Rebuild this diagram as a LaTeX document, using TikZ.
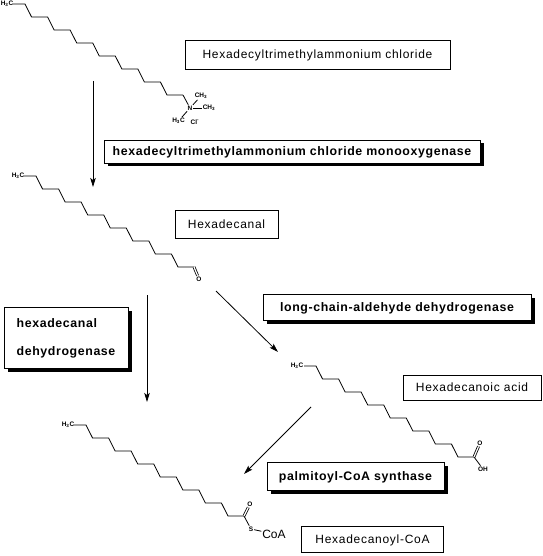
\documentclass[tikz,border=0pt]{standalone}
\usepackage{fontspec}
\setmainfont{Liberation Sans}
\newfontfamily\namefont[LetterSpace=6]{Liberation Sans}
\newfontfamily\enzfont[LetterSpace=5]{Liberation Sans}[BoldFont={Liberation Sans Bold}]
\usetikzlibrary{arrows.meta,shadows}
\tikzset{
  namebox/.style={draw,thick,fill=white,inner sep=0pt,text depth=0pt,font=\namefont\fontsize{12}{14}\selectfont},
  enzbox/.style={draw,thick,fill=white,inner sep=0pt,text depth=0pt,font=\enzfont\fontsize{12.35}{28}\selectfont\bfseries,
    drop shadow={shadow xshift=3.5pt,shadow yshift=-3.5pt,opacity=1,fill=black}},
  atom/.style={inner sep=0pt,outer sep=1pt,font=\fontsize{6.5}{7}\selectfont\bfseries},
  bond/.style={line width=0.8pt},
  react/.style={line width=0.8pt,-{Stealth[length=9pt,width=5.5pt,inset=2pt]}}
}
% sixteen carbon tail, #1 = first carbon
\newcommand{\tailchain}[1]{
\begin{scope}[shift={(#1)}]
\draw[bond] (0,0) -- (12,0)
  \foreach \k in {0,...,6}{ -- ++(6.57,13) -- ++(16,0)};
\end{scope}
}
\begin{document}
\begin{tikzpicture}[x=1pt,y=-1pt]
\useasboundingbox (0,0) rectangle (542,556);

\tailchain{13,4}
\tailchain{24,176}
\tailchain{304,366}
\tailchain{74,425}

% end groups
\node[atom] (me1) at (7,4) {H\textsubscript{3}C};
\node[atom] (nplus) at (190,108) {N};
\node[atom] (ch1) at (201,96) {CH\textsubscript{3}};
\node[atom] (ch2) at (209,108) {CH\textsubscript{3}};
\node[atom] (ch3) at (178.5,121) {H\textsubscript{3}C};
\node[atom] (cl) at (195,122) {Cl\textsuperscript{-}};
\coordinate (cn) at (183,95);
\draw[bond] (cn) -- (nplus);
\draw[bond] (nplus) -- (ch1);
\draw[bond] (nplus) -- (ch2);
\draw[bond] (nplus) -- (ch3);

\node[atom] (me2) at (18,176) {H\textsubscript{3}C};
\node[atom] (oald) at (199,279) {O};
\coordinate (cald) at (194,267);
\draw[bond,double,double distance=1.2pt] (cald) -- (oald);

\node[atom] (me3) at (297,366) {H\textsubscript{3}C};
\node[atom] (oacid) at (480,443) {O};
\node[atom] (ohacid) at (483,469) {OH};
\coordinate (cacid) at (474,457);
\draw[bond,double,double distance=1.2pt] (cacid) -- (oacid);
\draw[bond] (cacid) -- (ohacid);

\node[atom] (me4) at (68,425) {H\textsubscript{3}C};
\node[atom] (ocoa) at (250,504) {O};
\node[atom] (scoa) at (251,529) {S};
\node[inner sep=0pt,outer sep=1pt,font=\fontsize{12}{14}\selectfont] (coa) at (274,534) {CoA};
\coordinate (ccoa) at (244,516);
\draw[bond,double,double distance=1.2pt] (ccoa) -- (ocoa);
\draw[bond] (ccoa) -- (scoa);
\draw[bond] (scoa) -- (coa);

% reaction arrows
\coordinate (a1s) at (93,81);
\coordinate (a1e) at (93,187);
\coordinate (a2s) at (147,295);
\coordinate (a2e) at (147,402);
\coordinate (a3s) at (216,291);
\coordinate (a3e) at (278,352);
\coordinate (a4s) at (311,407);
\coordinate (a4e) at (244,474);
\draw[react] (a1s) -- (a1e);
\draw[react] (a2s) -- (a2e);
\draw[react] (a3s) -- (a3e);
\draw[react] (a4s) -- (a4e);

% compound names
\node[namebox,minimum width=265pt,minimum height=29pt] (hdtma) at (317.5,54.5) {Hexadecyltrimethylammonium chloride};
\node[namebox,minimum width=103pt,minimum height=28pt] (hdal) at (226.5,224) {Hexadecanal};
\node[namebox,minimum width=138pt,minimum height=25pt] (hdacid) at (472,387.5) {Hexadecanoic acid};
\node[namebox,minimum width=142pt,minimum height=26pt] (hdcoa) at (372.5,539) {Hexadecanoyl-CoA};

% enzymes
\node[enzbox,minimum width=376pt,minimum height=23pt] (mono) at (292,151.5) {hexadecyltrimethylammonium chloride monooxygenase};
\node[enzbox,minimum width=268pt,minimum height=26pt] (aldh) at (397,307) {long-chain-aldehyde dehydrogenase};
\node[enzbox,minimum width=177pt,minimum height=28pt] (pcs) at (355.5,476) {palmitoyl-CoA synthase};
\node[enzbox,minimum width=124pt,minimum height=61pt,align=left] (hdh) at (66,337.5) {hexadecanal\\dehydrogenase};
\end{tikzpicture}
\end{document}
